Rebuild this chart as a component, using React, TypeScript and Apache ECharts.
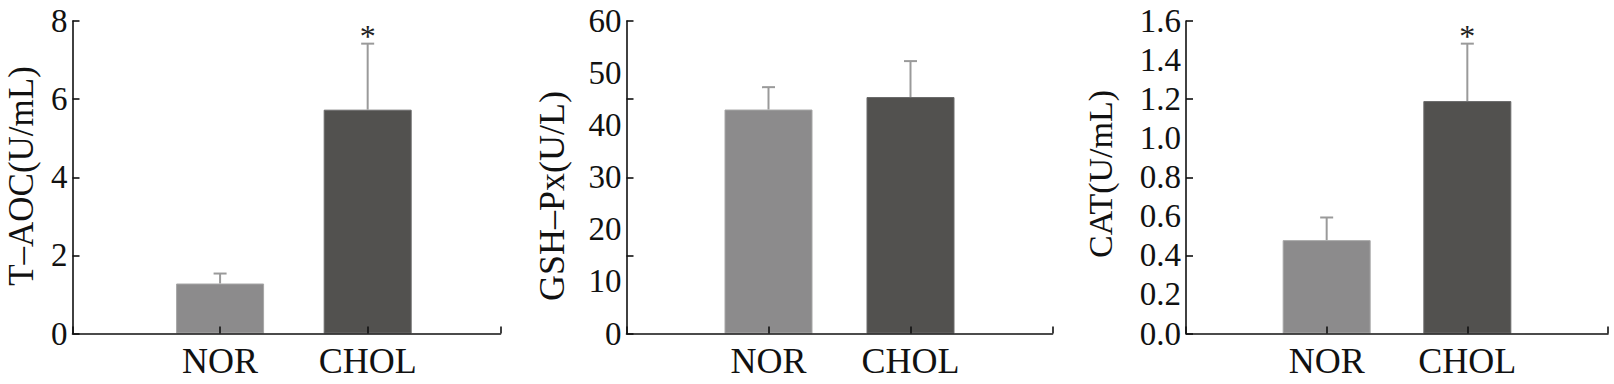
import React, { useEffect, useRef } from 'react';
import * as echarts from 'echarts';

// ---- data ----
const categories = ['NOR', 'CHOL'];
const categoryPositions = [1, 2];
const taocMean = [1.28, 5.73];
const taocUpper = [1.535, 7.42];
const gshMean = [43.0, 45.4];
const gshUpper = [47.3, 52.3];
const catMean = [0.478, 1.19];
const catUpper = [0.594, 1.484];
const taocSig = [0, 1];
const gshSig = [0, 0];
const catSig = [0, 1];
const axisNames = ['T–AOC(U/mL)', 'GSH–Px(U/L)', 'CAT(U/mL)'];
const yMaxes = [8, 60, 1.6];
const labelIntervals = [2, 10, 0.2];
const tickIntervals = [2, 15, 0.4];
const labelDecimals = [0, 0, 1];
const xMaxes = [2.9, 3, 3];

const means = [taocMean, gshMean, catMean];
const uppers = [taocUpper, gshUpper, catUpper];
const sigs = [taocSig, gshSig, catSig];

// ---- layout / style ----
const gridBoxes = [
  { left: 72.5, width: 428 },
  { left: 626.5, width: 426 },
  { left: 1186, width: 422 },
];
const gridTop = 21;
const gridHeight = 312.5;
const namePos = [
  [21, 176],
  [552, 196],
  [1100, 174],
];
const nameSizes = [35, 36, 34];
const barColors = ['#8c8b8c', '#52514f'];
const barBorders = ['#a6a6a6', '#6a6a6a'];
const errColor = '#9a9a9a';
const FONT = '"Liberation Serif", "Times New Roman", serif';

export default function App() {
  const ref = useRef<HTMLDivElement>(null);
  useEffect(() => {
    if (!ref.current) return;
    const chart = echarts.init(ref.current, undefined, { renderer: 'svg' });
    const grid: any[] = [];
    const xAxis: any[] = [];
    const yAxis: any[] = [];
    const series: any[] = [];
    const graphic: any[] = [];
    for (let i = 0; i < 3; i++) {
      grid.push({ left: gridBoxes[i].left, width: gridBoxes[i].width, top: gridTop, height: gridHeight });
      xAxis.push({
        type: 'value',
        gridIndex: i,
        min: 0,
        max: xMaxes[i],
        interval: 1,
        z: 3,
        splitLine: { show: false },
        axisLine: { show: true, lineStyle: { color: '#111', width: 1.6 } },
        axisTick: { show: true, inside: true, length: 7, lineStyle: { color: '#111', width: 1.6 } },
        axisLabel: {
          show: true,
          margin: 9,
          color: '#111',
          fontFamily: FONT,
          fontSize: 36,
          formatter: (v: number) => {
            const idx = categoryPositions.indexOf(v);
            return idx >= 0 ? categories[idx] : '';
          },
        },
      });
      // labels axis
      yAxis.push({
        type: 'value',
        gridIndex: i,
        position: 'left',
        min: 0,
        max: yMaxes[i],
        interval: labelIntervals[i],
        splitLine: { show: false },
        axisLine: { show: false },
        axisTick: { show: false },
        axisLabel: {
          margin: 5,
          color: '#111',
          fontFamily: FONT,
          fontSize: 33,
          padding: [10, 0, 0, 0],
          formatter: (v: number) => v.toFixed(labelDecimals[i]),
        },
      });
      // line + ticks axis
      yAxis.push({
        type: 'value',
        gridIndex: i,
        position: 'left',
        min: 0,
        max: yMaxes[i],
        interval: tickIntervals[i],
        splitLine: { show: false },
        axisLine: { show: true, lineStyle: { color: '#111', width: 1.6 } },
        axisTick: { show: true, inside: true, length: 7, lineStyle: { color: '#111', width: 1.6 } },
        axisLabel: { show: false },
      });
      series.push({
        type: 'bar',
        xAxisIndex: i,
        yAxisIndex: i * 2,
        barWidth: 88,
        data: categoryPositions.map((x, k) => ({
          value: [x, means[i][k]],
          itemStyle: { color: barColors[k], borderColor: barBorders[k], borderWidth: 1 },
        })),
      });
      series.push({
        type: 'custom',
        xAxisIndex: i,
        yAxisIndex: i * 2,
        z: 4,
        data: categoryPositions.map((x, k) => [x, means[i][k], uppers[i][k], sigs[i][k]]),
        renderItem: (params: any, api: any) => {
          const x = api.value(0);
          const m = api.value(1);
          const u = api.value(2);
          const s = api.value(3);
          const p0 = api.coord([x, m]);
          const p1 = api.coord([x, u]);
          const st = { stroke: errColor, lineWidth: 2 };
          const children: any[] = [
            { type: 'line', shape: { x1: p0[0], y1: p0[1], x2: p1[0], y2: p1[1] }, style: st },
            { type: 'line', shape: { x1: p1[0] - 6.5, y1: p1[1], x2: p1[0] + 6.5, y2: p1[1] }, style: st },
          ];
          if (s) {
            children.push({
              type: 'text',
              x: p1[0],
              y: p1[1] - 8,
              style: { text: '*', font: `32px ${FONT}`, fill: '#222', align: 'center', verticalAlign: 'middle' },
            });
          }
          return { type: 'group', children };
        },
      });
      graphic.push({
        type: 'text',
        x: namePos[i][0],
        y: namePos[i][1],
        rotation: Math.PI / 2,
        style: {
          text: axisNames[i],
          font: `${nameSizes[i]}px ${FONT}`,
          fill: '#111',
          align: 'center',
          verticalAlign: 'middle',
        },
      });
    }
    chart.setOption({
      animation: false,
      backgroundColor: '#ffffff',
      textStyle: { fontFamily: FONT },
      grid,
      xAxis,
      yAxis,
      series,
      graphic,
    });
    return () => chart.dispose();
  }, []);
  return (
    <div
      ref={ref}
      style={{ position: 'absolute', left: 0, top: 0, width: 1614, height: 384 }}
    />
  );
}
